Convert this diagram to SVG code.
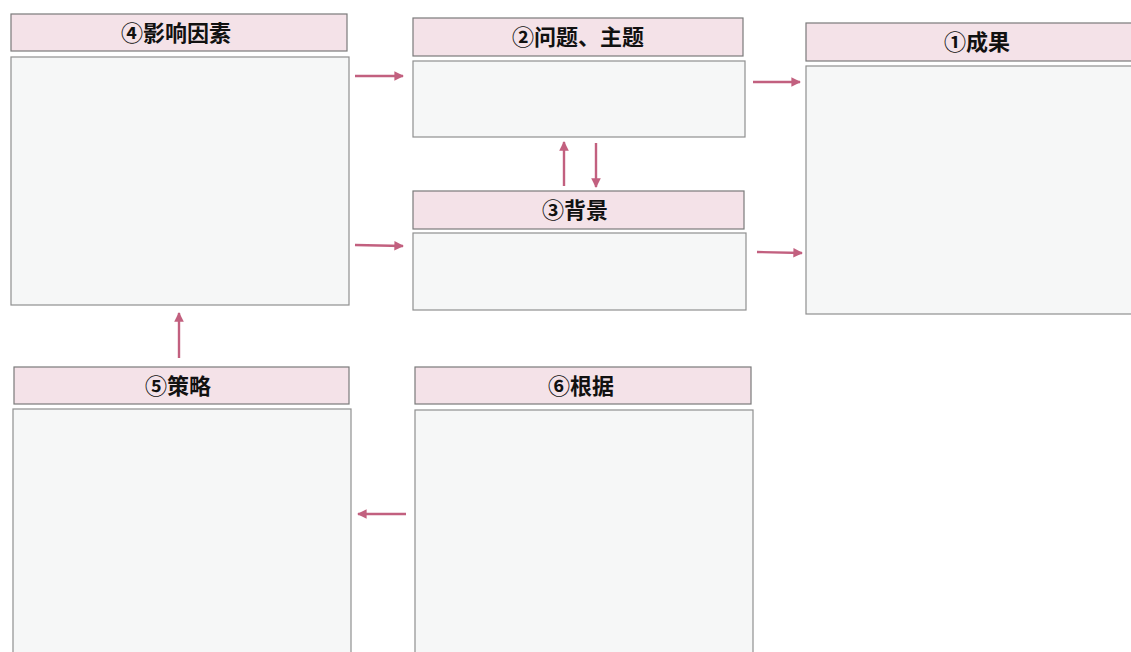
<svg xmlns="http://www.w3.org/2000/svg" width="1131" height="652" viewBox="0 0 1131 652">
<style>
.hd{fill:#f4e2e8;stroke:#7a7a7a;stroke-width:1.2}
.bd{fill:#f6f7f7;stroke:#8f8f8f;stroke-width:1.2}
.t{font-family:"Noto Sans CJK SC","Noto Sans",sans-serif;font-weight:bold;font-size:22px;fill:#111;text-anchor:middle}
.c{stroke:#c2607f;stroke-width:2.4;fill:none;marker-end:url(#ah)}
</style>
<defs>
<marker id="ah" viewBox="0 0 10 10" refX="9" refY="5" markerWidth="4" markerHeight="4" orient="auto" markerUnits="strokeWidth">
<path d="M0,0 L10,5 L0,10 z" fill="#c2607f"/>
</marker>
</defs>
<rect width="1131" height="652" fill="#ffffff"/>
<g id="n4">
<rect class="hd" x="11" y="14" width="336" height="37"/>
<rect class="bd" x="11" y="57" width="338" height="248"/>
<text class="t" x="176" y="41">④影响因素</text>
</g>
<g id="n2">
<rect class="hd" x="413" y="18" width="330" height="38"/>
<rect class="bd" x="413" y="61" width="332" height="76"/>
<text class="t" x="578" y="45">②问题、主题</text>
</g>
<g id="n1">
<rect class="hd" x="806" y="23" width="330" height="38"/>
<rect class="bd" x="806" y="66" width="330" height="248"/>
<text class="t" x="977" y="50">①成果</text>
</g>
<g id="n3">
<rect class="hd" x="413" y="191" width="331" height="38"/>
<rect class="bd" x="413" y="233" width="333" height="77"/>
<text class="t" x="575" y="218">③背景</text>
</g>
<g id="n5">
<rect class="hd" x="14" y="367" width="335" height="37"/>
<rect class="bd" x="13" y="409" width="338" height="250"/>
<text class="t" x="178" y="394">⑤策略</text>
</g>
<g id="n6">
<rect class="hd" x="415" y="367" width="336" height="37"/>
<rect class="bd" x="415" y="410" width="338" height="250"/>
<text class="t" x="581" y="394">⑥根据</text>
</g>
<g id="connectors">
<line class="c" x1="355" y1="76" x2="403" y2="76"/>
<line class="c" x1="355" y1="245" x2="403" y2="246"/>
<line class="c" x1="753" y1="82" x2="800" y2="82"/>
<line class="c" x1="757" y1="252" x2="802" y2="253"/>
<line class="c" x1="564" y1="186" x2="564" y2="142"/>
<line class="c" x1="596" y1="143" x2="596" y2="187"/>
<line class="c" x1="179" y1="358" x2="179" y2="313"/>
<line class="c" x1="406" y1="514" x2="358" y2="514"/>
</g>
</svg>
